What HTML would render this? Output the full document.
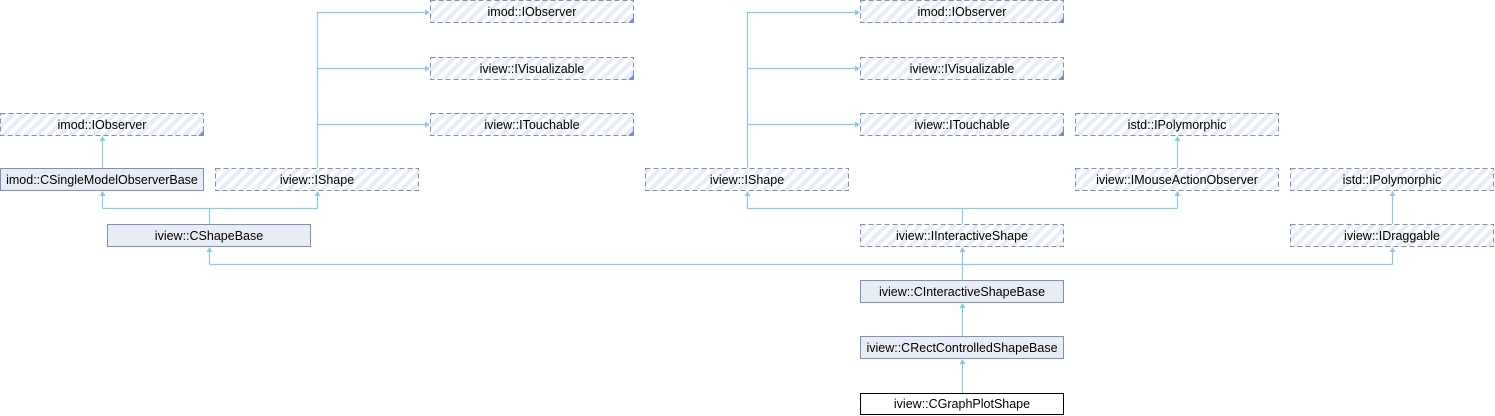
<!DOCTYPE html>
<html><head><meta charset="utf-8"><style>
html,body{margin:0;padding:0;background:#fff;}
svg{display:block;}
text{font-family:"Liberation Sans",sans-serif;font-size:12.5px;fill:#000;}
</style></head><body>
<svg width="1495" height="416" viewBox="0 0 1495 416" xmlns="http://www.w3.org/2000/svg">
<defs>
<pattern id="h" width="8" height="8" patternUnits="userSpaceOnUse" patternTransform="rotate(45)">
<rect width="8" height="8" fill="#ffffff"/>
<rect width="4" height="8" fill="#e8ecf5"/>
</pattern>
</defs>
<g stroke="#8cc8e8" stroke-width="1.2" fill="none">
<path d="M317.5 168 V12.5 H428 M317.5 68.5 H428 M317.5 124.5 H428"/>
<path d="M747.5 168 V12.5 H858 M747.5 68.5 H858 M747.5 124.5 H858"/>
<path d="M102.5 168 V138"/>
<path d="M209.5 224 V208.5 M102.5 208.5 H317.5 M102.5 208.5 V193 M317.5 208.5 V193"/>
<path d="M962.5 224 V208.5 M747.5 208.5 H1177.5 M747.5 208.5 V193 M1177.5 208.5 V193"/>
<path d="M1177.5 168 V138"/>
<path d="M1392.5 224 V193"/>
<path d="M962.5 280 V264.5 M209.5 264.5 H1392.5 M209.5 264.5 V249 M1392.5 264.5 V249 M962.5 264.5 V249"/>
<path d="M962.5 336 V305 M962.5 393 V361"/>
</g>
<g fill="#8cc8e8">
<path d="M430 12.5 l-5 -3 v6z"/><path d="M430 68.5 l-5 -3 v6z"/><path d="M430 124.5 l-5 -3 v6z"/>
<path d="M860 12.5 l-5 -3 v6z"/><path d="M860 68.5 l-5 -3 v6z"/><path d="M860 124.5 l-5 -3 v6z"/>
<path d="M102.5 136 l-3 5 h6z"/>
<path d="M102.5 191 l-3 5 h6z"/><path d="M317.5 191 l-3 5 h6z"/>
<path d="M747.5 191 l-3 5 h6z"/><path d="M1177.5 191 l-3 5 h6z"/>
<path d="M1177.5 136 l-3 5 h6z"/><path d="M1392.5 191 l-3 5 h6z"/>
<path d="M209.5 247 l-3 5 h6z"/><path d="M962.5 247 l-3 5 h6z"/><path d="M1392.5 247 l-3 5 h6z"/>
<path d="M962.5 303 l-3 5 h6z"/><path d="M962.5 359 l-3 5 h6z"/>
</g>
<g stroke="#7a90c2" stroke-width="1" stroke-dasharray="5,3" fill="url(#h)">
<rect x="430.5" y="0.5" width="203" height="22"/>
<rect x="430.5" y="57.5" width="203" height="22"/>
<rect x="430.5" y="113.5" width="203" height="22"/>
<rect x="860.5" y="0.5" width="203" height="22"/>
<rect x="860.5" y="57.5" width="203" height="22"/>
<rect x="860.5" y="113.5" width="203" height="22"/>
<rect x="0.5" y="113.5" width="203" height="22"/>
<rect x="215.5" y="168.5" width="203" height="22"/>
<rect x="645.5" y="168.5" width="203" height="22"/>
<rect x="1075.5" y="113.5" width="203" height="22"/>
<rect x="1075.5" y="168.5" width="203" height="22"/>
<rect x="1290.5" y="168.5" width="203" height="22"/>
<rect x="860.5" y="224.5" width="203" height="22"/>
<rect x="1290.5" y="224.5" width="203" height="22"/>
</g>
<g fill="#7a90c2">
<path d="M634 23 h-6 l6 -6z"/><path d="M634 80 h-6 l6 -6z"/><path d="M634 136 h-6 l6 -6z"/>
<path d="M1064 23 h-6 l6 -6z"/><path d="M1064 80 h-6 l6 -6z"/><path d="M1064 136 h-6 l6 -6z"/>
<path d="M204 136 h-6 l6 -6z"/>
</g>
<g stroke="#7a90c2" stroke-width="1" fill="#e8ecf5">
<rect x="0.5" y="168.5" width="203" height="22"/>
<rect x="107.5" y="224.5" width="203" height="22"/>
<rect x="860.5" y="280.5" width="203" height="22"/>
<rect x="860.5" y="336.5" width="203" height="22"/>
</g>
<rect x="860.5" y="393.5" width="203" height="21" fill="#fff" stroke="#000" stroke-width="1"/>
<g text-anchor="middle">
<text x="532" y="16">imod::IObserver</text>
<text x="532" y="73">iview::IVisualizable</text>
<text x="532" y="129">iview::ITouchable</text>
<text x="962" y="16">imod::IObserver</text>
<text x="962" y="73">iview::IVisualizable</text>
<text x="962" y="129">iview::ITouchable</text>
<text x="102" y="129">imod::IObserver</text>
<text x="102" y="184">imod::CSingleModelObserverBase</text>
<text x="317" y="184">iview::IShape</text>
<text x="747" y="184">iview::IShape</text>
<text x="1177" y="129">istd::IPolymorphic</text>
<text x="1177" y="184">iview::IMouseActionObserver</text>
<text x="1392" y="184">istd::IPolymorphic</text>
<text x="209" y="240">iview::CShapeBase</text>
<text x="962" y="240">iview::IInteractiveShape</text>
<text x="1392" y="240">iview::IDraggable</text>
<text x="962" y="296">iview::CInteractiveShapeBase</text>
<text x="962" y="352">iview::CRectControlledShapeBase</text>
<text x="962" y="408">iview::CGraphPlotShape</text>
</g>
</svg>
</body></html>
